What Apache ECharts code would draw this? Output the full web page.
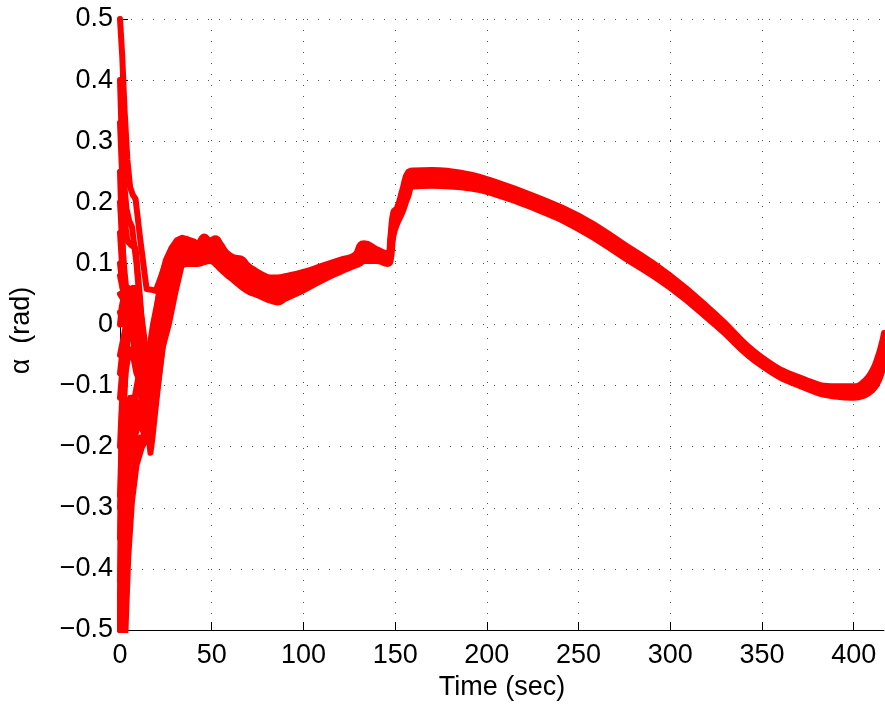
<!DOCTYPE html>
<html>
<head>
<meta charset="utf-8">
<title>Angle of attack</title>
<script src="https://cdn.jsdelivr.net/npm/echarts@6/dist/echarts.min.js"></script>
<style>
  html, body { margin: 0; padding: 0; background: #ffffff; }
  #chart { width: 885px; height: 707px; }
</style>
</head>
<body>
<div id="chart"></div>
<script>
// Tick labels of the alpha axis, bottom to top
const yTickLabels = ['\u22120.5', '\u22120.4', '\u22120.3', '\u22120.2', '\u22120.1', '0', '0.1', '0.2', '0.3', '0.4', '0.5'];
const xTickValues = [0, 50, 100, 150, 200, 250, 300, 350, 400];

// Shared sample times (sec) of the converged part of each run
const tBody = [36, 40, 42, 46, 49, 52, 55, 58, 62, 66,
               70, 74, 78, 82, 86, 90, 100, 110, 120, 128,
               131, 133, 140, 146, 147.5, 149, 151, 154, 157, 160,
               170, 180, 190, 200, 225, 250, 275, 300, 325, 350,
               375, 390, 400, 406, 410, 413, 415, 416.5];

// alpha (rad) of the six runs that form the main band, at tBody
const bodyA = [0.140, 0.136, 0.133, 0.144, 0.138, 0.141, 0.131, 0.118, 0.110, 0.108,
               0.096, 0.088, 0.081, 0.077, 0.077, 0.079, 0.086, 0.096, 0.106, 0.114,
               0.131, 0.133, 0.123, 0.116, 0.146, 0.184, 0.191, 0.221, 0.249, 0.252,
               0.253, 0.251, 0.246, 0.238, 0.211, 0.178, 0.131, 0.080, 0.016, -0.054,
               -0.092, -0.101, -0.101, -0.092, -0.076, -0.054, -0.034, -0.014];
const bodyB = [0.132, 0.129, 0.126, 0.136, 0.131, 0.133, 0.123, 0.111, 0.102, 0.099,
               0.088, 0.080, 0.074, 0.069, 0.069, 0.072, 0.080, 0.091, 0.102, 0.110,
               0.125, 0.127, 0.119, 0.113, 0.138, 0.176, 0.186, 0.214, 0.241, 0.247,
               0.248, 0.246, 0.241, 0.234, 0.207, 0.174, 0.127, 0.076, 0.012, -0.057,
               -0.095, -0.104, -0.105, -0.097, -0.082, -0.062, -0.043, -0.024];
const bodyC = [0.124, 0.121, 0.119, 0.127, 0.124, 0.124, 0.115, 0.104, 0.095, 0.090,
               0.079, 0.072, 0.066, 0.062, 0.061, 0.064, 0.074, 0.086, 0.098, 0.107,
               0.119, 0.121, 0.115, 0.109, 0.129, 0.168, 0.180, 0.206, 0.233, 0.242,
               0.243, 0.241, 0.237, 0.230, 0.203, 0.169, 0.122, 0.072, 0.009, -0.060,
               -0.098, -0.108, -0.109, -0.102, -0.089, -0.071, -0.053, -0.035];
const bodyD = [0.115, 0.114, 0.113, 0.119, 0.118, 0.116, 0.106, 0.096, 0.087, 0.080,
               0.071, 0.065, 0.059, 0.054, 0.052, 0.057, 0.068, 0.082, 0.094, 0.103,
               0.112, 0.116, 0.112, 0.106, 0.121, 0.160, 0.175, 0.199, 0.225, 0.236,
               0.237, 0.236, 0.232, 0.225, 0.199, 0.165, 0.118, 0.068, 0.005, -0.062,
               -0.100, -0.111, -0.112, -0.106, -0.095, -0.079, -0.062, -0.045];
const bodyE = [0.107, 0.106, 0.106, 0.110, 0.111, 0.107, 0.098, 0.089, 0.080, 0.071,
               0.062, 0.057, 0.051, 0.047, 0.044, 0.049, 0.062, 0.077, 0.090, 0.100,
               0.106, 0.110, 0.108, 0.102, 0.112, 0.152, 0.169, 0.191, 0.217, 0.231,
               0.232, 0.231, 0.228, 0.221, 0.195, 0.160, 0.113, 0.064, 0.002, -0.065,
               -0.103, -0.115, -0.116, -0.111, -0.102, -0.088, -0.072, -0.056];
const bodyF = [0.099, 0.099, 0.099, 0.102, 0.104, 0.099, 0.090, 0.082, 0.072, 0.062,
               0.054, 0.049, 0.044, 0.039, 0.036, 0.042, 0.056, 0.072, 0.086, 0.096,
               0.100, 0.104, 0.104, 0.099, 0.104, 0.144, 0.164, 0.184, 0.209, 0.226,
               0.227, 0.226, 0.223, 0.217, 0.191, 0.156, 0.109, 0.060, -0.002, -0.068,
               -0.106, -0.118, -0.120, -0.116, -0.108, -0.096, -0.081, -0.066];

// Initial transients [t, alpha] of the same six runs, up to tBody[0]
const headA = [[0, -0.12], [2, -0.05], [4, 0.0], [6, 0.02], [8, 0.03], [10, 0.0], [13, -0.06],
               [16, -0.08], [19, 0.0], [22, 0.07], [25, 0.105], [28, 0.125], [31, 0.138], [34, 0.142], [36, 0.140]];
const headB = [[0, 0.5], [1.2, 0.44], [2.5, 0.35], [4, 0.27], [5.5, 0.225], [7, 0.212], [8.5, 0.205],
               [11, 0.14], [14.5, 0.058], [17, 0.057], [19.5, 0.055], [22, 0.075], [26, 0.11], [30, 0.128],
               [33, 0.134], [36, 0.132]];
const headC = [[0, 0.2], [2, 0.1], [4, 0.04], [6, 0.0], [8, -0.04], [10, -0.08], [12.5, -0.13],
               [14, -0.12], [16, -0.07], [19, 0.0], [23, 0.07], [27, 0.108], [31, 0.12], [36, 0.124]];
const headD = [[0, 0.08], [2, 0.05], [4, 0.03], [6, 0.045], [8, 0.02], [10, -0.03], [13, -0.1],
               [16, -0.14], [18, -0.12], [21, -0.05], [25, 0.035], [29, 0.09], [33, 0.112], [36, 0.115]];
const headE = [[0, -0.5], [0.8, -0.4], [2, -0.3], [4, -0.24], [7, -0.2], [10, -0.16], [12, -0.17],
               [13, -0.178], [14.5, -0.16], [17, -0.09], [20, -0.02], [24, 0.05], [28, 0.09], [32, 0.104], [36, 0.107]];
const headF = [[0, 0.33], [1.5, 0.22], [3, 0.16], [4, 0.137], [6, 0.13], [8.5, 0.125], [11, 0.04],
               [13.5, -0.08], [15.5, -0.18], [16.6, -0.21], [17.5, -0.19], [20, -0.12], [23, -0.04],
               [26.6, 0.0], [30, 0.05], [33.6, 0.097], [36, 0.099]];

// Further runs, shown until they have joined the band
const runG = [[0, -0.5], [1.5, -0.35], [3, -0.27], [5, -0.2], [8, -0.12], [11, -0.07], [14, -0.06],
              [17, -0.03], [21, 0.02], [25, 0.07], [30, 0.11], [36, 0.12]];
const runH = [[0, 0.02], [2, 0.0], [4, 0.03], [6, 0.055], [8, 0.04], [10, 0.0], [12, -0.05],
              [15, -0.11], [18, -0.08], [22, 0.0], [26, 0.07], [31, 0.115], [36, 0.128]];
const runI = [[0, -0.05], [2, -0.02], [4, 0.01], [6, 0.0], [9, -0.05], [12, -0.12], [14, -0.16],
              [16, -0.13], [19, -0.06], [23, 0.02], [27, 0.08], [32, 0.115], [36, 0.118]];
const runJ = [[0, -0.2], [1.5, -0.1], [3, -0.03], [5, 0.0], [7, -0.02], [10, -0.09], [13, -0.15],
              [15, -0.17], [17, -0.14], [20, -0.07], [24, 0.02], [29, 0.085], [36, 0.11]];
const runK = [[0, -0.35], [1, -0.22], [2.5, -0.1], [4, -0.03], [6, 0.01], [8, 0.0], [11, -0.06],
              [14, -0.12], [17, -0.11], [21, -0.03], [25, 0.05], [30, 0.1], [36, 0.105]];
const runL = [[0, 0.1], [1.5, 0.06], [3, 0.04], [5, 0.05], [7, 0.06], [9, 0.03], [11, -0.02],
              [14, -0.08], [17, -0.06], [20, 0.0], [24, 0.06], [28, 0.1], [33, 0.13], [36, 0.135]];
const runM = [[0, -0.42], [1, -0.3], [2.5, -0.2], [4.5, -0.15], [7, -0.12], [10, -0.13], [13, -0.15],
              [16, -0.1], [20, -0.03], [24, 0.04], [28, 0.09], [33, 0.112]];
const runN = [[0, -0.28], [1, -0.18], [3, -0.08], [5, -0.04], [7, -0.05], [9, -0.08], [12, -0.1],
              [15, -0.06], [18, 0.0], [22, 0.06], [26, 0.1], [31, 0.125]];
const runO = [[0, 0.05], [2, 0.04], [3.5, 0.06], [5, 0.04], [7, 0.05], [9, 0.06], [11, 0.03],
              [14, -0.04], [17, -0.04], [20, 0.02], [24, 0.08], [28, 0.12], [33, 0.135]];
const runP = [[0, -0.62], [1.5, -0.56], [3, -0.5], [4.5, -0.38], [6.5, -0.29], [9, -0.23], [12, -0.2],
              [14, -0.19], [16.6, -0.19], [18, -0.16], [21, -0.09], [25, 0.0], [29, 0.07], [34, 0.11]];
const runQ = [[0, -0.5], [0.5, -0.42], [1.5, -0.33], [3, -0.26], [5, -0.22], [8, -0.2], [11, -0.185],
              [13.5, -0.19], [15.5, -0.175], [18, -0.12], [21, -0.05], [25, 0.03], [29, 0.09], [34, 0.115]];
const runR = [[0, -0.5], [0.3, -0.3], [1, -0.15], [2, -0.06], [3.5, -0.01], [5, 0.01], [7, -0.01],
              [10, -0.07], [13, -0.13], [15, -0.15], [17, -0.12], [20, -0.05], [24, 0.04], [28, 0.095], [33, 0.125]];
const runS = [[0, 0.25], [1, 0.15], [2.5, 0.07], [4, 0.03], [5.5, 0.02], [7, 0.035], [8.5, 0.02],
              [11, -0.05], [13, -0.11], [14.5, -0.14], [16, -0.12], [19, -0.04], [23, 0.05], [27, 0.1], [32, 0.13]];
const runT = [[0, 0.15], [1.5, 0.08], [3, 0.055], [4.5, 0.06], [6, 0.04], [8, 0.01], [10, -0.04],
              [12.5, -0.1], [15, -0.15], [16.5, -0.16], [18, -0.13], [21, -0.06], [25, 0.03], [29, 0.09], [34, 0.118]];
const runU = [[0, -0.08], [1.5, -0.04], [3, -0.01], [5, 0.02], [7, 0.04], [9, 0.05], [11, 0.02],
              [13, -0.04], [15, -0.09], [17, -0.08], [20, -0.01], [24, 0.07], [28, 0.115], [33, 0.14]];
const runV = [[0, 0.0], [1, 0.03], [2.5, 0.05], [4, 0.035], [6, 0.05], [8, 0.06], [10, 0.045],
              [12, 0.0], [14.5, -0.07], [17, -0.1], [19, -0.07], [22, 0.0], [26, 0.07], [30, 0.11], [35, 0.13]];
const runW = [[0, -0.3], [0.8, -0.25], [2, -0.2], [3.5, -0.15], [5.5, -0.12], [8, -0.12], [11, -0.15],
              [13.5, -0.17], [16, -0.15], [19, -0.09], [23, -0.01], [27, 0.06], [31, 0.1], [36, 0.115]];
const runX = [[0, 0.4], [1, 0.3], [2, 0.24], [3.5, 0.19], [5, 0.17], [6.5, 0.16], [9, 0.1], [11, 0.03],
              [13, -0.05], [15, -0.12], [17, -0.1], [20, -0.03], [24, 0.06], [28, 0.11], [33, 0.132]];
const runY = [[0, -0.45], [1, -0.36], [2.5, -0.28], [4.5, -0.22], [7, -0.17], [10, -0.14], [13, -0.12],
              [16, -0.08], [19, -0.02], [23, 0.05], [27, 0.1], [32, 0.12]];
const runZ = [[0, -0.55], [1, -0.5], [2.5, -0.4], [4, -0.32], [6, -0.26], [8.5, -0.22], [11, -0.2],
              [13.5, -0.175], [16, -0.14], [19, -0.08], [23, 0.0], [27, 0.07], [32, 0.11]];

const bandHeads = [headA, headB, headC, headD, headE, headF];
const bandBodies = [bodyA, bodyB, bodyC, bodyD, bodyE, bodyF];
const shortRuns = [runG, runH, runI, runJ, runK, runL, runM, runN, runO,
                   runP, runQ, runR, runS, runT, runU, runV, runW, runX, runY, runZ];

const FONT = 'Liberation Sans, Arial, Helvetica, sans-serif';
const RED = '#ff0000';

function runSeries(points, smooth) {
  return {
    type: 'line',
    data: points,
    showSymbol: false,
    symbol: 'none',
    smooth: smooth,
    clip: true,
    silent: true,
    lineStyle: { color: RED, width: 6, cap: 'round', join: 'round' }
  };
}

const series = [];
// transients as plain polylines, converged parts as smooth curves
bandHeads.forEach(function (head) { series.push(runSeries(head, false)); });
shortRuns.forEach(function (run) { series.push(runSeries(run, false)); });
bandBodies.forEach(function (body) {
  series.push(runSeries(tBody.map(function (t, i) { return [t, body[i]]; }), 0.5));
});

const gridDots = { color: '#4d4d4d', width: 1, type: [1, 10] };

const chart = echarts.init(document.getElementById('chart'), null, { renderer: 'canvas' });
chart.setOption({
  animation: false,
  backgroundColor: '#ffffff',
  grid: { left: 116, right: 1, top: 19, bottom: 77, containLabel: false },
  xAxis: {
    type: 'value',
    min: 0,
    max: 416.5,
    interval: 50,
    name: 'Time (sec)',
    nameLocation: 'middle',
    nameGap: 40,
    nameTextStyle: { fontFamily: FONT, fontSize: 27, color: '#000' },
    axisLine: { show: true, onZero: false, lineStyle: { color: '#000', width: 1 } },
    axisTick: { show: true, inside: true, length: 8, lineStyle: { color: '#000' } },
    axisLabel: {
      fontFamily: FONT, fontSize: 27, color: '#000', margin: 12,
      showMaxLabel: false,
      formatter: function (v) { return xTickValues.indexOf(v) >= 0 ? String(v) : ''; }
    },
    splitLine: { show: true, showMaxLine: false, lineStyle: gridDots }
  },
  yAxis: {
    type: 'value',
    min: -0.5,
    max: 0.5,
    interval: 0.1,
    name: '\u03b1  (rad)',
    nameLocation: 'middle',
    nameRotate: 90,
    nameGap: 85,
    nameTextStyle: { fontFamily: FONT, fontSize: 27, color: '#000', padding: [0, 12, 0, 0] },
    axisLine: { show: true, onZero: false, lineStyle: { color: '#000', width: 1 } },
    axisTick: { show: true, inside: true, length: 8, lineStyle: { color: '#000' } },
    axisLabel: {
      fontFamily: FONT, fontSize: 27, color: '#000', margin: 7,
      formatter: function (v) { return yTickLabels[Math.round((v + 0.5) * 10)]; }
    },
    splitLine: { show: true, lineStyle: gridDots }
  },
  series: series
});
</script>
</body>
</html>
